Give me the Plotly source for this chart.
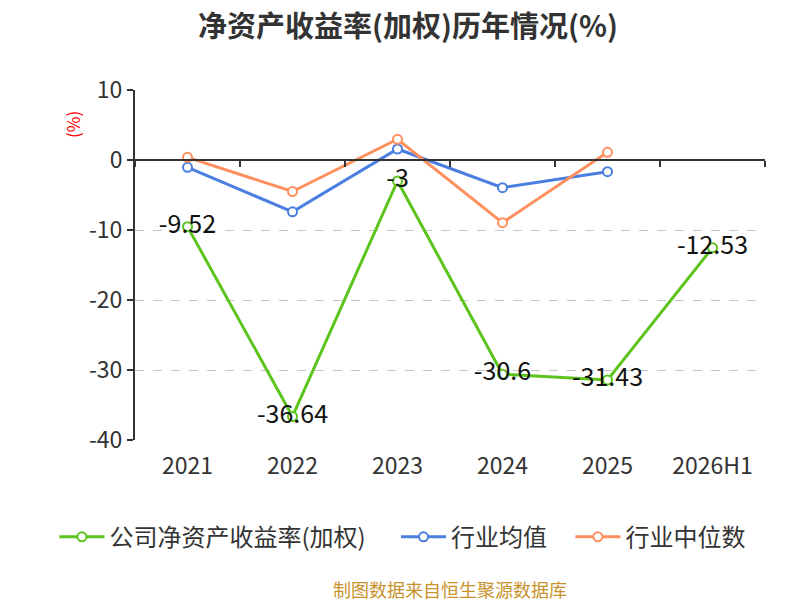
import plotly.graph_objects as go

# 数据
years = ["2021", "2022", "2023", "2024", "2025", "2026H1"]
company_roe = [-9.52, -36.64, -3, -30.6, -31.43, -12.53]
industry_avg = [-1.05, -7.4, 1.57, -3.95, -1.67, None]
industry_median = [0.38, -4.5, 2.96, -8.95, 1.1, None]
y_ticks = [10, 0, -10, -20, -30, -40]
y_tick_labels = ["10", "0", "-10", "-20", "-30", "-40"]

green = "#5cc41d"
blue = "#4a7ee0"
orange = "#ff8f5e"
font_cn = "Noto Sans CJK SC"

fig = go.Figure()

fig.add_trace(go.Scatter(
    x=years, y=industry_avg, name="行业均值", legend="legend2",
    mode="lines+markers",
    line=dict(color=blue, width=3),
    marker=dict(size=9, color="white", line=dict(color=blue, width=2)),
))
fig.add_trace(go.Scatter(
    x=years, y=industry_median, name="行业中位数", legend="legend3",
    mode="lines+markers",
    line=dict(color=orange, width=3),
    marker=dict(size=9, color="white", line=dict(color=orange, width=2)),
))
# 公司曲线放在最后，标签在最上层
fig.add_trace(go.Scatter(
    x=years, y=company_roe, name="公司净资产收益率(加权)", legend="legend",
    mode="lines+markers+text",
    line=dict(color=green, width=3),
    marker=dict(size=9, color="white", line=dict(color=green, width=2)),
    text=[str(v) for v in company_roe],
    textposition="middle center",
    textfont=dict(size=25, color="#111"),
    cliponaxis=False,
))
# 零轴上的刻度（辅助轴）
fig.add_trace(go.Scatter(x=years, y=[None] * len(years), xaxis="x2",
                         showlegend=False, hoverinfo="skip"))


def legend_at(x):
    return dict(orientation="h", xref="container", x=x, xanchor="left",
                yref="container", y=0.118, yanchor="middle",
                font=dict(size=24, color="#333"), itemwidth=45)


fig.update_layout(
    width=800, height=600,
    paper_bgcolor="white", plot_bgcolor="white",
    font=dict(family=font_cn, color="#333"),
    margin=dict(l=127, r=43, t=82, b=168),
    title=dict(text="<b>净资产收益率(加权)历年情况(%)</b>", x=0.5, xanchor="center",
               y=0.968, yanchor="middle", font=dict(size=29, color="#333")),
    xaxis=dict(type="category", range=[-0.5, 5.5], showline=False, showgrid=False,
               ticks="", ticklabelstandoff=10, tickfont=dict(size=23, color="#333")),
    xaxis2=dict(type="category", range=[-0.5, 5.5], overlaying="x", anchor="free",
                position=0.8, side="bottom", showline=True, linecolor="#333", linewidth=2,
                ticks="outside", tickson="boundaries", ticklen=6, tickcolor="#333",
                tickwidth=2, showticklabels=False, showgrid=False),
    yaxis=dict(range=[-40, 10], tickvals=y_ticks, ticktext=y_tick_labels,
               showline=True, linecolor="#333",
               linewidth=2, ticks="outside", ticklen=6, tickcolor="#333", tickwidth=2,
               showgrid=True, gridcolor="#c4c4c4", griddash="dash", gridwidth=1.4,
               zeroline=False, tickfont=dict(size=23, color="#333")),
    legend=legend_at(0.058),
    legend2=legend_at(0.485),
    legend3=legend_at(0.703),
    showlegend=True,
    annotations=[
        dict(text="(%)", xref="paper", yref="paper", x=-0.1, y=0.9, showarrow=False,
             xanchor="center", yanchor="middle",
             textangle=-90, font=dict(size=17, color="red")),
        dict(text="制图数据来自恒生聚源数据库", xref="paper", yref="paper", x=0.5,
             y=-0.426, showarrow=False, xanchor="center", yanchor="middle",
             font=dict(size=18, color="#c8922c")),
    ],
)

fig.write_html("out.html")
